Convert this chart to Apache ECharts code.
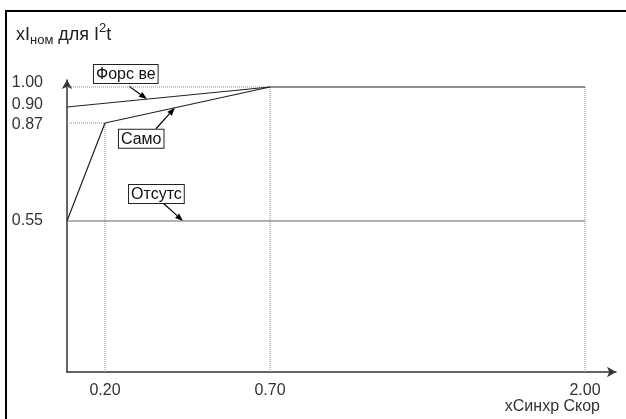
<!DOCTYPE html>
<html>
<head>
<meta charset="utf-8">
<script src="https://cdn.jsdelivr.net/npm/echarts@6/dist/echarts.min.js"></script>
<style>
html, body { margin: 0; padding: 0; background: #fff; }
#chart { width: 626px; height: 419px; }
</style>
</head>
<body>
<div id="chart"></div>
<script>
// values
const xTicks = [0.20, 0.70, 2.00]
const yTicks = [0.55, 0.87, 0.90, 1.00]
const forsLine = [[0, 0.90], [0.70, 1.00], [2.00, 1.00]]
const samoLine = [[0, 0.55], [0.20, 0.87], [0.70, 1.00]]
const otsutLine = [[0, 0.55], [2.00, 0.55]]
const seriesNames = ['Форс ве', 'Само', 'Отсутс']

// the diagram is not drawn to scale: where each knot sits along its axis (px from origin)
const xKnots = [0, 0.20, 0.70, 2.00]
const xSpots = [0, 38, 203, 518]
const yKnots = [0, 0.55, 0.87, 0.90, 1.00]
const ySpots = [0, 151, 249, 265, 285]
// small vertical nudges of the y labels (px, + = up), same order as yTicks
const yLabelNudge = [0, -2, 2, 4]

function warp (v, knots, spots) {
  for (let i = 1; i < knots.length; i++) {
    if (v <= knots[i] || i === knots.length - 1) {
      const t = (v - knots[i - 1]) / (knots[i] - knots[i - 1])
      return spots[i - 1] + t * (spots[i] - spots[i - 1])
    }
  }
}
const sx = v => warp(v, xKnots, xSpots)
const sy = v => warp(v, yKnots, ySpots)
const toAxis = pts => pts.map(p => [sx(p[0]), sy(p[1])])

// dotted helper lines dropped from the break points
const guides = [
  [[0, 1.00], [0.70, 1.00]],
  [[0, 0.87], [0.20, 0.87]],
  [[0.20, 0], [0.20, 0.87]],
  [[0.70, 0], [0.70, 1.00]],
  [[2.00, 0], [2.00, 1.00]]
]

const FONT = 'Liberation Sans, Arial, sans-serif'
const lines = [forsLine, samoLine, otsutLine]
const lineColors = ['#222', '#222', '#666']

const series = []
guides.forEach(g => {
  series.push({
    type: 'line', data: toAxis(g), symbol: 'none', silent: true,
    lineStyle: { color: '#888', width: 1, type: 'dotted' }
  })
})
lines.forEach((l, i) => {
  series.push({
    name: seriesNames[i], type: 'line', data: toAxis(l), symbol: 'none',
    lineStyle: { color: lineColors[i], width: 1.2 }
  })
})

function findTick (ticks, scale, v) {
  return ticks.findIndex(t => Math.abs(scale(t) - v) < 0.01)
}

const yRich = {}
yLabelNudge.forEach((n, i) => {
  yRich['n' + i] = {
    fontSize: 16, fontFamily: FONT, color: '#333',
    padding: n > 0 ? [0, 0, 2 * n, 0] : [-2 * n, 0, 0, 0]
  }
})

// eslint-disable-next-line
const myChart = echarts.init(document.getElementById('chart'), null, { renderer: 'canvas' })
myChart.setOption({
  animation: false,
  backgroundColor: '#fff',
  grid: { left: 67, right: 10, top: 80, bottom: 47 },
  xAxis: {
    type: 'value', min: 0, max: 549,
    splitLine: { show: false },
    axisTick: { show: false },
    axisLine: { symbol: ['none', 'arrow'], symbolSize: [8, 9], lineStyle: { color: '#333', width: 1.5 } },
    axisLabel: {
      customValues: xTicks.map(sx),
      formatter: v => { const i = findTick(xTicks, sx, v); return i < 0 ? '' : xTicks[i].toFixed(2) },
      color: '#333', fontSize: 16, fontFamily: FONT, margin: 11
    }
  },
  yAxis: {
    type: 'value', min: 0, max: 292,
    splitLine: { show: false },
    axisTick: { show: false },
    axisLine: { symbol: ['none', 'arrow'], symbolSize: [8, 9], lineStyle: { color: '#333', width: 1.5 } },
    axisLabel: {
      customValues: yTicks.map(sy),
      formatter: v => { const i = findTick(yTicks, sy, v); return i < 0 ? '' : '{n' + i + '|' + yTicks[i].toFixed(2) + '}' },
      rich: yRich,
      color: '#333', fontSize: 16, fontFamily: FONT, margin: 24
    }
  },
  series: series
})

// callouts: which line, which segment, how far along it, where the arrow tail and box sit
const callouts = [
  { line: 0, seg: 0, t: 0.394, tail: [-18, -13], box: [-35, -21] },
  { line: 1, seg: 1, t: 0.424, tail: [-19, 21], box: [-37, 1] },
  { line: 2, seg: 0, t: 0.224, tail: [-20, -18], box: [-34, -18] }
]

const graphic = [
  { type: 'rect', shape: { x: 6, y: 11, width: 700, height: 500 }, style: { fill: null, stroke: '#000', lineWidth: 2 }, silent: true },
  {
    type: 'text', left: 16, top: 20,
    style: {
      text: '{a|xI}{sub|ном}{a| для I}{sup|2}{a|t}',
      rich: {
        a: { fontSize: 18, fontFamily: FONT, fill: '#222', lineHeight: 24, verticalAlign: 'bottom' },
        sub: { fontSize: 13, fontFamily: FONT, fill: '#222', lineHeight: 24, verticalAlign: 'bottom', padding: [0, 0, -3, 0] },
        sup: { fontSize: 13, fontFamily: FONT, fill: '#222', lineHeight: 24, verticalAlign: 'top', padding: [2, 0, 0, 0] }
      }
    }
  },
  {
    type: 'text', right: 26, top: 399,
    style: { text: 'xСинхр Скор', fontSize: 16, fontFamily: FONT, fill: '#333' }
  }
]

callouts.forEach((c, i) => {
  const pts = toAxis(lines[c.line])
  const a = pts[c.seg], b = pts[c.seg + 1]
  const tip = myChart.convertToPixel('grid', [a[0] + c.t * (b[0] - a[0]), a[1] + c.t * (b[1] - a[1])])
  const tail = [tip[0] + c.tail[0], tip[1] + c.tail[1]]
  const ang = Math.atan2(tip[1] - tail[1], tip[0] - tail[0])
  const L = 8, W = 3
  const base = [tip[0] - L * Math.cos(ang), tip[1] - L * Math.sin(ang)]
  graphic.push({
    type: 'line', silent: true,
    shape: { x1: tail[0], y1: tail[1], x2: base[0], y2: base[1] },
    style: { stroke: '#000', lineWidth: 1.2 }
  })
  graphic.push({
    type: 'polygon', silent: true,
    shape: { points: [tip, [base[0] + W * Math.sin(ang), base[1] - W * Math.cos(ang)], [base[0] - W * Math.sin(ang), base[1] + W * Math.cos(ang)]] },
    style: { fill: '#000' }
  })
  graphic.push({
    type: 'text', x: tail[0] + c.box[0], y: tail[1] + c.box[1], silent: true,
    style: {
      text: seriesNames[c.line], fontSize: 16, fontFamily: FONT, fill: '#111',
      backgroundColor: '#fff', borderColor: '#222', borderWidth: 1, padding: [1, 2, 0, 2], lineHeight: 17
    }
  })
})

myChart.setOption({ graphic: graphic })
</script>
</body>
</html>
